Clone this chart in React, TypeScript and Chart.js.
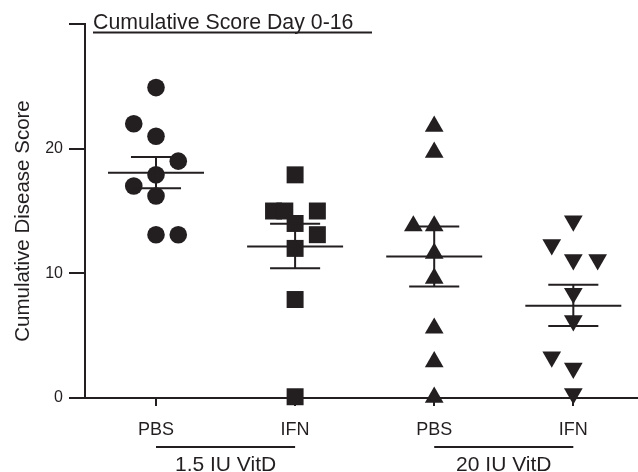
import { useEffect, useRef } from 'react';
import { Chart, registerables } from 'chart.js';

Chart.register(...registerables);

// ---- data ----
const categories = ['PBS', 'IFN', 'PBS', 'IFN'];
const groupLabels = ['1.5 IU VitD', '20 IU VitD'];
const chartTitle = 'Cumulative Score Day 0-16';
const yAxisTitle = 'Cumulative Disease Score';
const yTickValues = [0, 10, 20, 30];
const yHiddenTick = 30;

const pbsLowScores = [24.9, 22.0, 21.0, 19.0, 17.9, 17.0, 16.2, 13.1, 13.1];
const pbsLowJitter = [0, -0.16, 0, 0.16, 0, -0.16, 0, 0, 0.16];

const ifnLowScores = [17.9, 15.0, 15.0, 15.0, 14.0, 13.1, 12.0, 7.9, 0.1];
const ifnLowJitter = [0, -0.155, -0.074, 0.16, 0, 0.16, 0, 0, 0];

const pbsHighScores = [21.8, 19.7, 13.8, 13.8, 11.6, 9.6, 5.6, 2.9, 0.05];
const pbsHighJitter = [0, 0, -0.15, 0, 0, 0, 0, 0, 0];

const ifnHighScores = [14.2, 12.3, 11.1, 11.1, 8.4, 6.2, 3.3, 2.4, 0.35];
const ifnHighJitter = [0, -0.155, 0, 0.175, 0, 0, -0.155, 0, 0];

const groupMeans = [18.06, 12.15, 11.35, 7.39];
const semUpper = [19.34, 13.97, 13.76, 9.08];
const semLower = [16.83, 10.4, 8.94, 5.78];

// ---- styling ----
const INK = '#231f20';
const FONT = "'Liberation Sans', Arial, Helvetica, sans-serif";
const MEAN_HALF = 0.345;
const CAP_HALF = 0.18;

function pts(scores: number[], jitter: number[], cat: number) {
  return scores.map((v, i) => ({ x: cat + jitter[i], y: v }));
}

function segments(list: [number, number, number, number][]) {
  const out: { x: number; y: number | null }[] = [];
  list.forEach(([x1, y1, x2, y2]) => {
    out.push({ x: x1, y: y1 });
    out.push({ x: x2, y: y2 });
    out.push({ x: (x1 + x2) / 2, y: null });
  });
  return out;
}

// stretch the x axis to the right edge of the canvas, as in the reference
const fullWidthPlugin = {
  id: 'fullWidth',
  afterLayout(chart: any) {
    const x = chart.scales.x;
    x.right = chart.width;
    x.width = x.right - x.left;
    chart.chartArea.right = chart.width;
    chart.chartArea.width = chart.chartArea.right - chart.chartArea.left;
    x.configure();
  },
};

const decorPlugin = {
  id: 'decor',
  afterDraw(chart: any) {
    const ctx = chart.ctx;
    const xs = chart.scales.x;
    ctx.save();
    ctx.fillStyle = INK;
    ctx.strokeStyle = INK;
    // top title with underline
    ctx.font = `21.3px ${FONT}`;
    ctx.textAlign = 'left';
    ctx.textBaseline = 'alphabetic';
    ctx.fillText(chartTitle, 93, 29);
    ctx.lineWidth = 2;
    ctx.beginPath();
    ctx.moveTo(93, 32.5);
    ctx.lineTo(372, 32.5);
    ctx.stroke();
    // y axis title
    ctx.save();
    ctx.translate(29, 221);
    ctx.rotate(-Math.PI / 2);
    ctx.font = `20.5px ${FONT}`;
    ctx.textAlign = 'center';
    ctx.textBaseline = 'alphabetic';
    ctx.fillText(yAxisTitle, 0, 0);
    ctx.restore();
    // group brackets
    groupLabels.forEach((label, g) => {
      const a = xs.getPixelForValue(g * 2 + 1);
      const b = xs.getPixelForValue(g * 2 + 2);
      ctx.lineWidth = 2;
      ctx.beginPath();
      ctx.moveTo(a, 447);
      ctx.lineTo(b, 447);
      ctx.stroke();
      ctx.font = `21px ${FONT}`;
      ctx.textAlign = 'center';
      ctx.textBaseline = 'alphabetic';
      ctx.fillText(label, (a + b) / 2, 471);
    });
    ctx.restore();
  },
};

export default function App() {
  const ref = useRef<HTMLCanvasElement | null>(null);
  useEffect(() => {
    if (!ref.current) return;
    const markerBase = {
      showLine: false,
      backgroundColor: INK,
      borderColor: INK,
      pointBackgroundColor: INK,
      pointBorderColor: INK,
      pointBorderWidth: 0,
      clip: false as any,
    };
    const meanSegs: [number, number, number, number][] = groupMeans.map((m, i) => [
      i + 1 - MEAN_HALF, m, i + 1 + MEAN_HALF, m,
    ]);
    const whiskerSegs: [number, number, number, number][] = groupMeans.map((_, i) => [
      i + 1, semLower[i], i + 1, semUpper[i],
    ]);
    const capSegs: [number, number, number, number][] = [];
    groupMeans.forEach((_, i) => {
      capSegs.push([i + 1 - CAP_HALF, semUpper[i], i + 1 + CAP_HALF, semUpper[i]]);
      capSegs.push([i + 1 - CAP_HALF, semLower[i], i + 1 + CAP_HALF, semLower[i]]);
    });
    const lineBase = {
      showLine: true,
      pointRadius: 0,
      borderColor: INK,
      borderWidth: 2,
      spanGaps: false,
      clip: false as any,
    };
    const chart = new Chart(ref.current, {
      type: 'scatter',
      data: {
        datasets: [
          { ...lineBase, label: 'mean', data: segments(meanSegs) },
          { ...lineBase, label: 'sem', data: segments(whiskerSegs) },
          { ...lineBase, label: 'caps', data: segments(capSegs) },
          { ...markerBase, label: 'PBS 1.5', data: pts(pbsLowScores, pbsLowJitter, 1), pointStyle: 'circle', pointRadius: 8.8 },
          { ...markerBase, label: 'IFN 1.5', data: pts(ifnLowScores, ifnLowJitter, 2), pointStyle: 'rect', pointRadius: 12 },
          { ...markerBase, label: 'PBS 20', data: pts(pbsHighScores, pbsHighJitter, 3), pointStyle: 'triangle', pointRadius: 10.8 },
          { ...markerBase, label: 'IFN 20', data: pts(ifnHighScores, ifnHighJitter, 4), pointStyle: 'triangle', pointRadius: 10.8, pointRotation: 180 },
        ] as any,
      },
      options: {
        animation: false,
        responsive: false,
        events: [],
        layout: { padding: { top: 24, left: 0, right: 0, bottom: 0 } },
        plugins: { legend: { display: false }, tooltip: { enabled: false }, title: { display: false } },
        scales: {
          x: {
            type: 'linear',
            min: 0.4896,
            max: 4.465,
            afterBuildTicks: (scale: any) => {
              scale.ticks = categories.map((_, i) => ({ value: i + 1 }));
            },
            afterFit: (scale: any) => {
              scale.height = 74;
              scale.paddingLeft = 0;
              scale.paddingRight = 0;
            },
            ticks: {
              autoSkip: false,
              maxRotation: 0,
              padding: 13,
              color: INK,
              font: { family: FONT, size: 18 },
              callback: (v: any) => categories[Math.round(Number(v)) - 1] ?? '',
            },
            grid: { drawOnChartArea: false, drawTicks: true, tickLength: 8, color: INK, lineWidth: 2 },
            border: { display: true, color: INK, width: 2 },
          },
          y: {
            type: 'linear',
            min: 0,
            max: 30,
            afterBuildTicks: (scale: any) => {
              scale.ticks = yTickValues.map((v) => ({ value: v }));
            },
            afterFit: (scale: any) => {
              scale.width = 85;
              scale.paddingTop = 0;
              scale.paddingBottom = 0;
            },
            ticks: {
              padding: 6,
              color: INK,
              font: { family: FONT, size: 16 },
              callback: (v: any) => (Number(v) === yHiddenTick ? '' : String(v)),
            },
            grid: { drawOnChartArea: false, drawTicks: true, tickLength: 16, color: INK, lineWidth: 2 },
            border: { display: true, color: INK, width: 2 },
          },
        },
      },
      plugins: [fullWidthPlugin, decorPlugin],
    } as any);
    return () => chart.destroy();
  }, []);
  return (
    <div style={{ position: 'absolute', left: 0, top: 0, width: 638, height: 472, background: '#fff' }}>
      <canvas ref={ref} width={638} height={472} />
    </div>
  );
}
